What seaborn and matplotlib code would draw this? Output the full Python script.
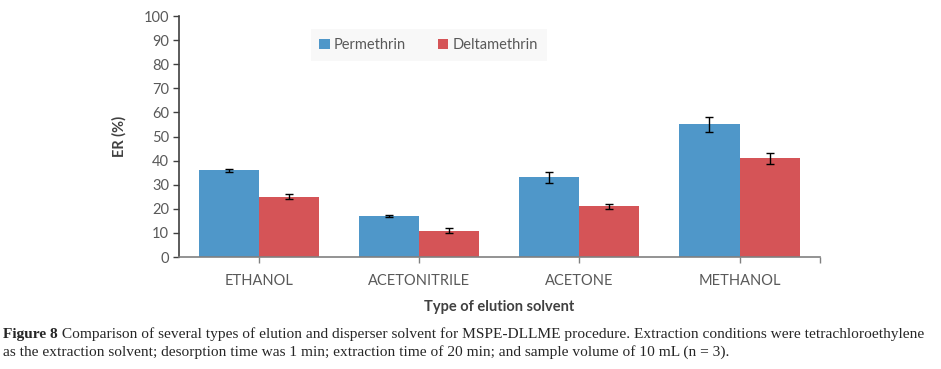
import numpy as np
import pandas as pd
import matplotlib
matplotlib.use('Agg')
import matplotlib.pyplot as plt
import seaborn as sns

solvents = ['ETHANOL', 'ACETONITRILE', 'ACETONE', 'METHANOL']
permethrin = [36, 17, 33, 55]
deltamethrin = [25, 11, 21, 41]
permethrin_err = [0.7, 0.3, 2.1, 3.1]
deltamethrin_err = [1.1, 1.0, 1.1, 2.3]
yticks = [0, 10, 20, 30, 40, 50, 60, 70, 80, 90, 100]

sns.set_style('white')
plt.rcParams['font.family'] = ['Lato', 'DejaVu Sans']

df = pd.DataFrame({
    'solvent': solvents * 2,
    'ER': permethrin + deltamethrin,
    'compound': ['Permethrin'] * 4 + ['Deltamethrin'] * 4,
})
errs = {'Permethrin': permethrin_err, 'Deltamethrin': deltamethrin_err}

fig = plt.figure(figsize=(9.41, 3.69), dpi=100)
ax = fig.add_axes([0.190, 0.3035, 0.681, 0.653])

sns.barplot(data=df, x='solvent', y='ER', hue='compound', order=solvents,
            palette=['#4F97C9', '#D55457'], saturation=1, width=0.75, gap=0,
            linewidth=0, ax=ax)

# error bars on top of each bar
for cont, name in zip(ax.containers, ['Permethrin', 'Deltamethrin']):
    xs = [p.get_x() + p.get_width() / 2 for p in cont.patches]
    hs = [p.get_height() for p in cont.patches]
    ax.errorbar(xs, hs, yerr=errs[name], fmt='none', ecolor='black',
                elinewidth=1, capsize=3, capthick=1)

ax.set_xlim(-0.5, 3.5)
ax.set_ylim(0, 100)
ax.set_yticks(yticks)
ax.set_xticks([3.5], minor=True)

for s in ['top', 'right']:
    ax.spines[s].set_visible(False)
ax.spines['left'].set_color('#404040')
ax.spines['bottom'].set_color('#808080')
ax.spines['left'].set_linewidth(1.2)
ax.spines['bottom'].set_linewidth(1.2)
ax.tick_params(axis='y', which='both', direction='out', length=4, width=1,
               color='#404040', labelsize=10.5, labelcolor='#595959', pad=3, left=True)
ax.tick_params(axis='x', which='both', direction='out', length=4, width=1,
               color='#808080', labelsize=10.5, labelcolor='#595959', pad=8, bottom=True)

ax.set_ylabel('ER (%)', fontsize=10.5, fontweight='bold', color='#404040', labelpad=12)
ax.set_xlabel('Type of elution solvent', fontsize=10.5, fontweight='bold',
              color='#404040', labelpad=9)

leg = ax.legend(ncol=2, loc='center', bbox_to_anchor=(0.39, 0.88), fontsize=10.5,
                frameon=True, fancybox=False, handlelength=0.7, handleheight=0.7,
                handletextpad=0.3, columnspacing=2.2, borderpad=0.6)
leg.get_frame().set_facecolor('#F7F7F7')
leg.get_frame().set_edgecolor('none')
for t in leg.get_texts():
    t.set_color('#595959')

# caption
cap1 = fig.text(0.003, 0.085, 'Figure 8', fontsize=11.1, fontweight='bold',
                family='Liberation Serif', va='baseline')
ax.annotate(' Comparison of several types of elution and disperser solvent for MSPE-DLLME '
            'procedure. Extraction conditions were tetrachloroethylene',
            xy=(1, 0), xycoords=cap1, va='bottom', ha='left', fontsize=11.1,
            family='Liberation Serif', annotation_clip=False)
fig.text(0.003, 0.035, 'as the extraction solvent; desorption time was 1 min; extraction time '
         'of 20 min; and sample volume of 10 mL (n = 3).', fontsize=11.1,
         family='Liberation Serif', va='baseline')

fig.savefig('out.png', dpi=100)
